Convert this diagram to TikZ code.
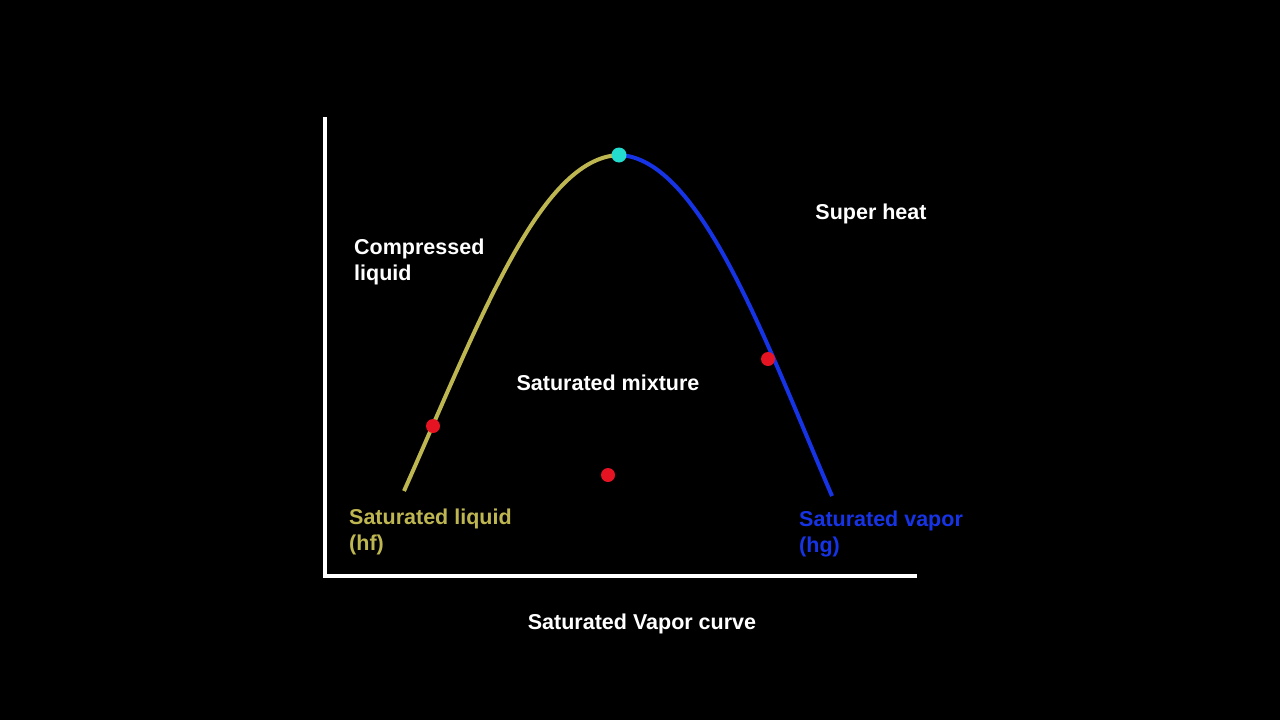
\documentclass[tikz,border=0pt]{standalone}
\usepackage{fontspec}
\setmainfont{Liberation Sans}
\definecolor{liqcol}{RGB}{190,182,80}
\definecolor{vapcol}{RGB}{22,52,230}
\definecolor{dotred}{RGB}{230,20,35}
\definecolor{dotcyan}{RGB}{35,220,205}
\tikzset{
  lbl/.style={font=\fontsize{21.5}{26}\selectfont\bfseries,align=left,inner sep=0pt},
  dot/.style={circle,fill=#1,inner sep=0pt,minimum size=15pt}
}
\begin{document}
\begin{tikzpicture}[x=1pt,y=-1pt]
  \fill[black] (0,0) rectangle (1280,720);
  \useasboundingbox (0,0) rectangle (1280,720);
  % axes
  \draw[white,line width=4pt] (325,117) -- (325,576) -- (917,576);
  % saturation dome
  \coordinate (lo) at (404,491);
  \coordinate (top) at (619,155);
  \coordinate (ro) at (832,496);
  \draw[liqcol,line width=4pt] (lo) .. controls (480,320) and (540,158) .. (top);
  \draw[vapcol,line width=4pt] (top) .. controls (700,158) and (765,340) .. (ro);
  \node[dot=dotcyan] (crit) at (top) {};
  \foreach \n/\p in {p1/{433,426},p2/{768,359},p3/{608,475}}
    \node[dot=dotred,minimum size=14pt] (\n) at (\p) {};
  % labels
  \node[lbl,white,anchor=north west] (comp) at (354,239) {Compressed\\liquid};
  \node[lbl,white] (super) at (871,214) {Super heat};
  \node[lbl,white] (mix) at (608,383) {Saturated mixture};
  \node[lbl,liqcol,anchor=north west] (hf) at (349,509) {Saturated liquid\\(hf)};
  \node[lbl,vapcol,anchor=north west] (hg) at (799,511) {Saturated vapor\\(hg)};
  \node[lbl,white] (title) at (642,624) {Saturated Vapor curve};
\end{tikzpicture}
\end{document}
